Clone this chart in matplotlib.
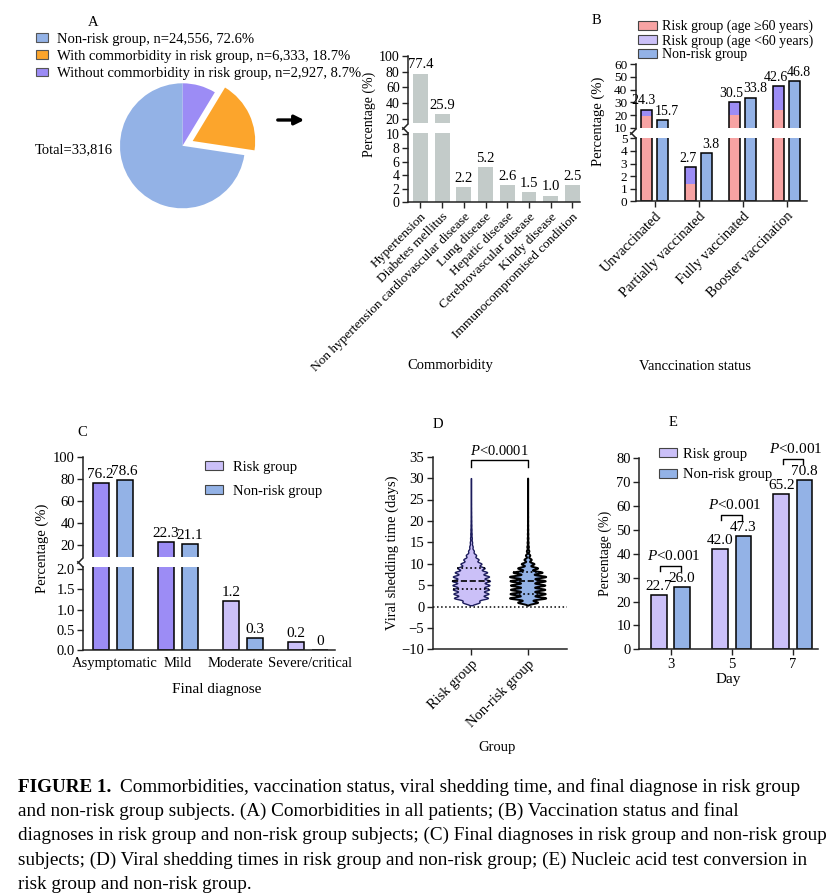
import numpy as np
import matplotlib.pyplot as plt
import matplotlib.transforms as mtransforms
from matplotlib.patches import Patch

plt.rcParams['font.family'] = ['Liberation Serif', 'DejaVu Serif']
plt.rcParams['mathtext.fontset'] = 'custom'
plt.rcParams['mathtext.it'] = 'Liberation Serif:italic'
plt.rcParams['mathtext.rm'] = 'Liberation Serif'
plt.rcParams['axes.linewidth'] = 1.1
plt.rcParams['axes.edgecolor'] = '#222222'

# ---------------- data ----------------
pie_labels = ["Non-risk group, n=24,556, 72.6%",
              "With commorbidity in risk group, n=6,333, 18.7%",
              "Without commorbidity in risk group, n=2,927, 8.7%"]
pie_counts = [24556, 6333, 2927]
pie_total = "Total=33,816"

comorb_names = ["Hypertension", "Diabetes mellitus",
                "Non hypertension cardiovascular disease", "Lung disease",
                "Hepatic disease", "Cerebrovascular disease", "Kindy disease",
                "Immunocompromised condition"]
comorb_pct = [77.4, 25.9, 2.2, 5.2, 2.6, 1.5, 1.0, 2.5]

vacc_names = ["Unvaccinated", "Partially vaccinated", "Fully vaccinated",
              "Booster vaccination"]
vacc_risk_total = [24.3, 2.7, 30.5, 42.6]
vacc_risk_old = [19.5, 1.4, 20.1, 24.1]  # age >=60 part of the risk bar
vacc_nonrisk = [15.7, 3.8, 33.8, 46.8]
vacc_legend = ["Risk group (age \u226560 years)", "Risk group (age <60 years)",
               "Non-risk group"]

diag_names = ["Asymptomatic", "Mild", "Moderate", "Severe/critical"]
diag_risk = [76.2, 22.3, 1.2, 0.2]
diag_nonrisk = [78.6, 21.1, 0.3, 0]

# viral shedding time: relative number of subjects per day
shed_days = np.arange(1, 31)
shed_risk_n = [0.45, 0.9, 0.92, 0.95, 0.97, 1.0, 0.95, 0.85, 0.72, 0.55,
               0.4, 0.27, 0.15, 0.09, 0.06, 0.045, 0.035, 0.028, 0.022, 0.018,
               0.015, 0.012, 0.01, 0.009, 0.008, 0.007, 0.006, 0.006, 0.005, 0.005]
shed_nonrisk_n = [0.55, 1.0, 0.97, 0.95, 0.95, 0.97, 1.0, 0.8, 0.55, 0.35,
                  0.2, 0.12, 0.07, 0.045, 0.03, 0.022, 0.017, 0.013, 0.01, 0.008,
                  0.007, 0.006, 0.005, 0.005, 0.004, 0.004, 0.004, 0.003, 0.003, 0.003]
shed_risk_q = [4, 6, 9]
shed_nonrisk_q = [3, 6, 8]
shed_groups = ["Risk group", "Non-risk group"]

conv_days = ["3", "5", "7"]
conv_risk = [22.7, 42.0, 65.2]
conv_nonrisk = [26.0, 47.3, 70.8]

caption = [
    "and non-risk group subjects. (A) Comorbidities in all patients; (B) Vaccination status and final",
    "diagnoses in risk group and non-risk group subjects; (C) Final diagnoses in risk group and non-risk group",
    "subjects; (D) Viral shedding times in risk group and non-risk group; (E) Nucleic acid test conversion in",
    "risk group and non-risk group.",
]
caption_head = "FIGURE 1."
caption_first = "Commorbidities, vaccination status, viral shedding time, and final diagnose in risk group"

# ---------------- colours ----------------
c_blue = '#93b2e6'
c_orange = '#fca52c'
c_purple = '#9c8cf5'
c_lilac = '#cbc0f8'
c_pink = '#f7a3a3'
c_gray = '#c3cbc9'
ink = '#222222'

W, H = 838, 894
fig = plt.figure(figsize=(W / 100, H / 100), dpi=100)


def ax_px(x0, y0, x1, y1):
    return fig.add_axes([x0 / W, 1 - y1 / H, (x1 - x0) / W, (y1 - y0) / H])


def fx(x):
    return x / W


def fy(y):
    return 1 - y / H


def nudge(label, dx, dy):
    # shift a tick label by dx, dy pixels
    label.set_transform(label.get_transform() +
                        mtransforms.ScaledTranslation(dx / 100, dy / 100, fig.dpi_scale_trans))


def style(ax, size=10):
    ax.spines['top'].set_visible(False)
    ax.spines['right'].set_visible(False)
    ax.tick_params(direction='out', length=4, width=1, labelsize=size,
                   color=ink, pad=2)


def broken(top, bot, size=10):
    style(top, size)
    style(bot, size)
    top.spines['bottom'].set_visible(False)
    top.tick_params(axis='x', bottom=False, labelbottom=False)
    kw = dict(markersize=9, color=ink, mew=1.1, linestyle='none', clip_on=False)
    top.plot([0], [0], transform=top.transAxes, marker=[(0, 0), (-1, -1)], **kw)
    bot.plot([0], [1], transform=bot.transAxes, marker=[(0, 0), (-1, 1)], **kw)


def label_bars(top, bot, xs, vals, limit, size=10.5, dx=0):
    for x, v in zip(xs, vals):
        ax = top if v > limit else bot
        ax.annotate('{:.1f}'.format(v) if v != 0 else '0', (x, v), xytext=(dx, 1.5),
                    textcoords='offset points', ha='center', va='bottom',
                    fontsize=size, annotation_clip=False)


# ---------------- A: pie ----------------
axp = ax_px(182.5 - 87.5, 145.8 - 87.5, 182.5 + 87.5, 145.8 + 87.5)
order = [2, 1, 0]
pie_colors = [c_blue, c_orange, c_purple]
axp.pie([pie_counts[i] for i in order], colors=[pie_colors[i] for i in order],
        startangle=90, counterclock=False, explode=[0, 0.18, 0],
        wedgeprops=dict(linewidth=0))
axp.set_xlim(-1.4, 1.4)
axp.set_ylim(-1.4, 1.4)
axp.set_aspect('equal')
axp.axis('off')

handles = [Patch(facecolor=c, edgecolor='#555555', lw=0.8) for c in pie_colors]
fig.legend(handles, pie_labels, loc='upper left', bbox_to_anchor=(fx(36), fy(32.5)),
           frameon=False, fontsize=10.5, handlelength=0.85, handleheight=0.55,
           handletextpad=0.6, labelspacing=0.3, borderpad=0, borderaxespad=0)
fig.text(fx(35), fy(150), pie_total, va='center', fontsize=10.5)
fig.text(fx(88), fy(22), 'A', va='center', fontsize=10.5)
axp.annotate('', xy=(307, H - 120), xytext=(275, H - 120), xycoords='figure pixels',
             textcoords='figure pixels',
             arrowprops=dict(arrowstyle='-|>', lw=2.4, color='black', mutation_scale=14))

# ---------------- A: comorbidity bars ----------------
axa_t = ax_px(408, 55.7, 580, 123.3)
axa_b = ax_px(408, 133.3, 580, 202.3)
xa = np.arange(len(comorb_pct))
for ax in (axa_t, axa_b):
    ax.bar(xa, comorb_pct, width=0.69, color=c_gray)
    ax.set_xlim(-0.576, 7.35)
axa_t.set_ylim(14.5, 100)
axa_t.set_yticks([20, 40, 60, 80, 100])
axa_b.set_ylim(0, 10.15)
axa_b.set_yticks([0, 2, 4, 6, 8, 10])
broken(axa_t, axa_b)
axa_b.set_xticks(xa)
axa_b.set_xticklabels(comorb_names, rotation=45, ha='right', va='top',
                      rotation_mode='anchor', fontsize=9.6)
label_bars(axa_t, axa_b, xa, comorb_pct, 10.15)
fig.text(fx(369), fy(114), 'Percentage (%)', rotation=90, ha='center', va='center',
         fontsize=10)
fig.text(fx(450), fy(366), 'Commorbidity', ha='center', va='center', fontsize=10.5)

# ---------------- B: vaccination ----------------
axb_t = ax_px(635.7, 64.3, 807, 127.7)
axb_b = ax_px(635.7, 138.3, 807, 201.3)
xb = np.arange(len(vacc_names))
off, bw = 0.186, 0.25
young = np.array(vacc_risk_total) - np.array(vacc_risk_old)
for ax in (axb_t, axb_b):
    ax.bar(xb - off, vacc_risk_old, width=bw, color=c_pink, lw=0)
    ax.bar(xb - off, young, bottom=vacc_risk_old, width=bw, color=c_purple, lw=0)
    ax.bar(xb - off, vacc_risk_total, width=bw, fill=False, edgecolor='black', lw=1.1)
    ax.bar(xb + off, vacc_nonrisk, width=bw, color=c_blue, edgecolor='black', lw=1.1)
    ax.set_xlim(-0.43, 3.46)
axb_t.set_ylim(10, 60)
axb_t.set_yticks([10, 20, 30, 40, 50, 60])
axb_b.set_ylim(0, 5)
axb_b.set_yticks([0, 1, 2, 3, 4, 5])
broken(axb_t, axb_b, size=9.5)
axb_b.set_xticks(xb)
axb_b.set_xticklabels(vacc_names, rotation=45, ha='right', va='top',
                      rotation_mode='anchor', fontsize=10.5)
label_bars(axb_t, axb_b, xb - off, vacc_risk_total, 5, size=10, dx=-2)
label_bars(axb_t, axb_b, xb + off, vacc_nonrisk, 5, size=10, dx=3)
hb = [Patch(facecolor=c, edgecolor='#444444', lw=0.8) for c in (c_pink, c_lilac, c_blue)]
axb_t.legend(hb, vacc_legend, loc='upper left', bbox_to_anchor=(fx(638), fy(20)),
             bbox_transform=fig.transFigure, frameon=False, fontsize=10,
             handlelength=1.37, handleheight=0.65, handletextpad=0.35,
             labelspacing=0.05, borderpad=0, borderaxespad=0)
fig.text(fx(598), fy(121), 'Percentage (%)', rotation=90, ha='center', va='center',
         fontsize=10.5)
fig.text(fx(695), fy(366), 'Vanccination status', ha='center', va='center', fontsize=10.5)
fig.text(fx(592), fy(20), 'B', va='center', fontsize=10.5)

# ---------------- C: final diagnose ----------------
axc_t = ax_px(83.3, 456.7, 335, 556.7)
axc_b = ax_px(83.3, 566.7, 335, 650)
xc = np.arange(len(diag_names))
risk_cols = [c_purple, c_purple, c_lilac, c_lilac]
for ax in (axc_t, axc_b):
    ax.bar(xc - off, diag_risk, width=0.245, color=risk_cols, edgecolor='black', lw=1.1)
    ax.bar(xc + off, diag_nonrisk, width=0.245, color=c_blue, edgecolor='black', lw=1.1)
    ax.set_xlim(-0.45, 3.41)
axc_t.set_ylim(9.4, 100)
axc_t.set_yticks([20, 40, 60, 80, 100])
axc_b.set_ylim(0, 2.057)
axc_b.set_yticks([0, 0.5, 1.0, 1.5, 2.0])
axc_b.set_yticklabels(['0.0', '0.5', '1.0', '1.5', '2.0'])
broken(axc_t, axc_b, size=10.5)
axc_b.set_xticks(xc)
axc_b.set_xticklabels(diag_names, fontsize=10.5)
axc_b.tick_params(axis='x', length=0, pad=5)
# the reference sets "Moderate" a little left of its pair and "Severe/critical" a little right
for lab, shift in zip(axc_b.get_xticklabels(), [2, 0, -8, 2]):
    nudge(lab, shift, 0)
label_bars(axc_t, axc_b, xc - off, diag_risk, 2.057, size=11)
label_bars(axc_t, axc_b, xc + off, diag_nonrisk, 2.057, size=11)
hc = [Patch(facecolor=c, edgecolor='#444444', lw=0.8) for c in (c_lilac, c_blue)]
axc_t.legend(hc, ["Risk group", "Non-risk group"], loc='upper left',
             bbox_to_anchor=(fx(205), fy(461)), bbox_transform=fig.transFigure,
             frameon=False, fontsize=10.5, handlelength=1.23, handleheight=0.55,
             handletextpad=0.7, labelspacing=0.75, borderpad=0, borderaxespad=0)
fig.text(fx(42), fy(548), 'Percentage (%)', rotation=90, ha='center', va='center',
         fontsize=10.5)
fig.text(fx(217), fy(689), 'Final diagnose', ha='center', va='center', fontsize=11)
fig.text(fx(77), fy(432), 'C', va='center', fontsize=10.5)

# ---------------- D: viral shedding violins ----------------
axd = ax_px(432.7, 456.7, 566.7, 649.3)
style(axd, 10.5)


def violin(ax, pos, counts, bwid, half, fc, ec, lw, quart):
    y = np.linspace(0.3, 30, 1500)
    c = np.asarray(counts, float)
    dens = (c[:, None] * np.exp(-0.5 * ((y[None, :] - shed_days[:, None]) / bwid) ** 2)).sum(0)
    w = dens / dens.max() * half
    ax.fill_betweenx(y, pos - w, pos + w, facecolor=fc, edgecolor=ec, lw=lw)
    for q, ls in zip(quart, [':', '--', ':']):
        wq = np.interp(q, y, w)
        ax.plot([pos - wq, pos + wq], [q, q], ls=ls, color='black', lw=1.2)


violin(axd, 0, shed_risk_n, 0.36, 0.335, c_lilac, '#1c1c5c', 1.0, shed_risk_q)
violin(axd, 1, shed_nonrisk_n, 0.28, 0.32, c_blue, 'black', 1.4, shed_nonrisk_q)
axd.axhline(0, ls=':', color='black', lw=1.1)
axd.set_ylim(-10, 35)
axd.set_yticks(range(-10, 36, 5))
axd.set_xlim(-0.675, 1.69)
axd.set_xticks([0, 1])
axd.set_xticklabels(shed_groups, rotation=45, ha='right', va='top',
                    rotation_mode='anchor', fontsize=10.5)
axd.plot([0, 0, 1, 1], [32.5, 34.2, 34.2, 32.5], color='black', lw=1, clip_on=False)
axd.text(0.5, 34.6, '$P$<0.0001', ha='center', va='bottom', fontsize=10.5)
axd.set_ylabel('Viral shedding time (days)', fontsize=10.5, labelpad=2)
fig.text(fx(497), fy(748), 'Group', ha='center', va='center', fontsize=10.5)
fig.text(fx(433), fy(424), 'D', va='center', fontsize=10.5)

# ---------------- E: nucleic acid conversion ----------------
axe = ax_px(639.3, 458.3, 818, 649.3)
style(axe, 10.5)
xe = np.arange(len(conv_days))
axe.bar(xe - 0.19, conv_risk, width=0.256, color=c_lilac, edgecolor='black', lw=1.1)
axe.bar(xe + 0.19, conv_nonrisk, width=0.256, color=c_blue, edgecolor='black', lw=1.1)
axe.set_xlim(-0.51, 2.41)
axe.set_ylim(0, 80)
axe.set_yticks(range(0, 81, 10))
axe.set_xticks(xe)
axe.set_xticklabels(conv_days, fontsize=10.5)
label_bars(axe, axe, xe - 0.19, conv_risk, 0, size=11)
label_bars(axe, axe, xe + 0.19, conv_nonrisk, 0, size=11)
for x, a, b in zip(xe, conv_risk, conv_nonrisk):
    yb = max(a, b) + 9
    axe.plot([x - 0.17, x - 0.17, x + 0.17, x + 0.17], [yb - 2.2, yb, yb, yb - 2.2],
             color='black', lw=1, clip_on=False)
    axe.text(x + 0.05, yb + 1.2, '$P$<0.001', ha='center', va='bottom', fontsize=11)
he = [Patch(facecolor=c, edgecolor='#444444', lw=0.8) for c in (c_lilac, c_blue)]
axe.legend(he, ["Risk group", "Non-risk group"], loc='upper left',
           bbox_to_anchor=(fx(659), fy(448)), bbox_transform=fig.transFigure,
           frameon=False, fontsize=10.5, handlelength=1.25, handleheight=0.6,
           handletextpad=0.4, labelspacing=0.5, borderpad=0, borderaxespad=0)
axe.set_ylabel('Percentage (%)', fontsize=10, labelpad=3)
axe.set_xlabel('Day', fontsize=11, labelpad=2)
fig.text(fx(669), fy(422), 'E', va='center', fontsize=10.5)

# ---------------- caption ----------------
axcap = fig.add_axes([0, 0, 1, 1])
axcap.axis('off')
t0 = axcap.text(fx(18), fy(787), caption_head, fontsize=13.8, fontweight='bold',
                va='center', transform=axcap.transAxes)
axcap.annotate(caption_first, xy=(1, 0.5), xycoords=t0, xytext=(6, 0),
               textcoords='offset points', va='center', fontsize=13.8)
for i, line in enumerate(caption):
    axcap.text(fx(18), fy(811.5 + 24.3 * i), line, fontsize=13.8, va='center',
               transform=axcap.transAxes)

fig.savefig('out.png', dpi=100)
